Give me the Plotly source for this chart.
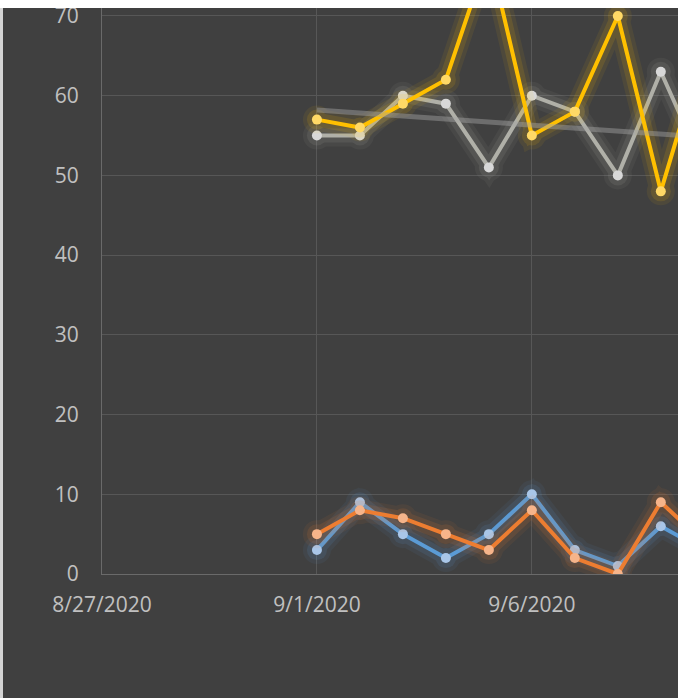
import plotly.graph_objects as go

# daily values
dates = ["2020-09-01", "2020-09-02", "2020-09-03", "2020-09-04", "2020-09-05",
         "2020-09-06", "2020-09-07", "2020-09-08", "2020-09-09", "2020-09-10"]
blue_vals = [3, 9, 5, 2, 5, 10, 3, 1, 6, 3]
orange_vals = [5, 8, 7, 5, 3, 8, 2, 0, 9, 4]
gray_vals = [55, 55, 60, 59, 51, 60, 58, 50, 63, 51]
gold_vals = [57, 56, 59, 62, 78, 55, 58, 70, 48, 66]

# linear trend line of the gray series (end points)
trend_dates = ["2020-09-01", "2020-09-10"]
trend_vals = [58.2, 54.8]

BG = "#404040"
GRID = "#575757"
AXIS = "#6a6a6a"
TXT = "#c0c0c0"
FONT = "Open Sans"

series = [
    (blue_vals, "#5B9BD5", "#A9C6E8"),
    (orange_vals, "#ED7D31", "#F6B48A"),
    (gray_vals, "#B0B0A8", "#D8D8D8"),
    (gold_vals, "#FFC000", "#FFD966"),
]

fig = go.Figure()

for vals, line_c, mark_c in series:
    # soft glow under each series
    for w, op in [(22, 0.07), (14, 0.12)]:
        fig.add_trace(go.Scatter(
            x=dates, y=vals, mode="lines+markers",
            line=dict(color=line_c, width=w),
            marker=dict(color=line_c, size=w + 6),
            opacity=op, hoverinfo="skip", showlegend=False,
        ))
    fig.add_trace(go.Scatter(
        x=dates, y=vals, mode="lines+markers",
        line=dict(color=line_c, width=4),
        marker=dict(color=mark_c, size=10),
        showlegend=False,
    ))

fig.add_trace(go.Scatter(
    x=trend_dates, y=trend_vals, mode="lines",
    line=dict(color="#A5A5A5", width=5),
    opacity=0.45, showlegend=False,
))

fig.update_layout(
    width=678, height=698,
    margin=dict(l=102, r=0, t=8, b=124),
    paper_bgcolor=BG, plot_bgcolor=BG,
    font=dict(family=FONT, color=TXT, size=21),
    shapes=[
        # white strip along the top and grey edge on the left
        dict(type="rect", xref="paper", yref="paper", layer="above",
             x0=-1, x1=1.1, y0=1, y1=1.03, fillcolor="white", line_width=0),
        dict(type="rect", xref="paper", yref="paper", layer="above",
             x0=-102 / 576, x1=-99 / 576, y0=-0.3, y1=1.0, fillcolor="#d4d4d4", line_width=0),
    ],
)

fig.update_xaxes(
    type="date",
    range=["2020-08-27", "2020-09-09 09:36"],
    tick0="2020-08-27", dtick=5 * 86400000,
    tickformat="%-m/%-d/%Y",
    showgrid=True, gridcolor=GRID, gridwidth=1,
    showline=True, linecolor=AXIS, linewidth=1,
    ticks="outside", ticklen=12, tickcolor="rgba(0,0,0,0)",
    tickfont=dict(size=21, color=TXT),
    zeroline=False,
)
fig.update_yaxes(
    range=[0, 71], dtick=10, tick0=0,
    showgrid=True, gridcolor=GRID, gridwidth=1,
    showline=True, linecolor=AXIS, linewidth=1,
    ticks="outside", ticklen=18, tickcolor="rgba(0,0,0,0)",
    tickfont=dict(size=21, color=TXT),
    zeroline=False,
)

fig.write_html(
    "out.html",
    config={"displayModeBar": False},
    post_script="document.body.style.margin='0';"
                "document.documentElement.style.overflow='hidden';",
)
